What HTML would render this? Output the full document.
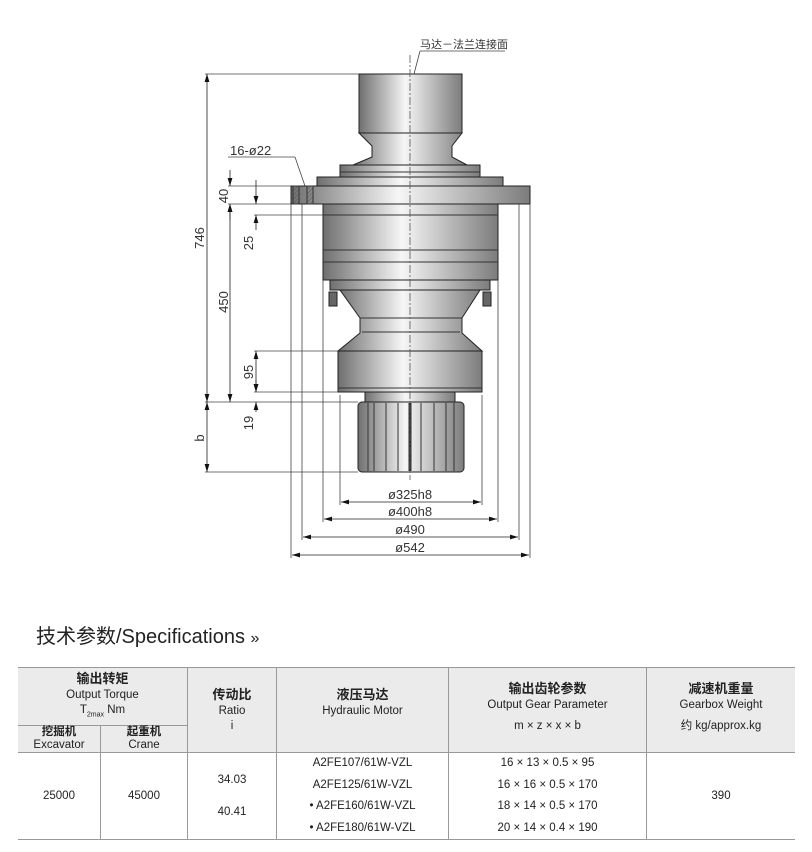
<!DOCTYPE html>
<html><head><meta charset="utf-8"><style>
body{margin:0;background:#fff;width:812px;height:852px;position:relative;overflow:hidden;font-family:"Liberation Sans","Noto Sans CJK SC",sans-serif;}
svg{position:absolute;left:0;top:0}
.title{position:absolute;left:36px;top:620px;font-size:20px;color:#222;}
table{position:absolute;left:18px;top:667px;width:777px;border-collapse:collapse;font-size:11.5px;color:#222;text-align:center;}
td{border:1px solid #999;padding:0;line-height:15px;}
.h{background:#ebebeb;}
.b{font-weight:bold;font-size:13px;}
</style></head><body>
<svg width="812" height="600" viewBox="0 0 812 600">
<defs>
<linearGradient id="g" x1="0" x2="1" y1="0" y2="0">
<stop offset="0" stop-color="#6f6f6f"/><stop offset="0.45" stop-color="#f6f6f6"/><stop offset="1" stop-color="#7c7c7c"/></linearGradient>
<pattern id="hat" width="3" height="3" patternUnits="userSpaceOnUse" patternTransform="rotate(45)"><line x1="0" y1="0" x2="0" y2="3" stroke="#555" stroke-width="1"/></pattern>
<marker id="a" markerWidth="10" markerHeight="6" refX="10" refY="3" orient="auto-start-reverse"><path d="M0,0 L10,3 L0,6z" fill="#111"/></marker>
</defs>
<g stroke="#222" stroke-width="1" fill="url(#g)">
<rect x="359" y="74" width="103" height="59"/>
<path d="M359,133 H462 L452,146 V157 L467,165 H353 L372,157 V146 Z"/>
<rect x="340" y="165" width="140" height="12"/>
<rect x="317" y="177" width="186" height="9"/>
<rect x="291" y="186" width="239" height="18"/>
<rect x="323" y="204" width="175" height="76"/>
<rect x="330" y="280" width="160" height="10"/>
<path d="M340,290 H480 L462,318 V333 L482,351 H338 L360,333 V318 Z"/>
<rect x="338" y="351" width="144" height="41"/>
<rect x="365" y="392" width="90" height="10"/>
<rect x="358" y="402" width="106" height="70" rx="4"/>
</g>
<g stroke="#333" stroke-width="1">
<line x1="323" y1="215" x2="498" y2="215"/><line x1="323" y1="250" x2="498" y2="250"/><line x1="323" y1="262" x2="498" y2="262"/>
<line x1="362" y1="332" x2="460" y2="332"/><line x1="360" y1="318" x2="462" y2="318"/><line x1="338" y1="388" x2="482" y2="388"/>
<line x1="340" y1="172" x2="480" y2="172"/>
<line x1="368" y1="403" x2="368" y2="471"/><line x1="374" y1="403" x2="374" y2="471"/><line x1="386" y1="403" x2="386" y2="471"/><line x1="398" y1="403" x2="398" y2="471"/><line x1="410" y1="403" x2="410" y2="471" stroke-width="3"/><line x1="421" y1="403" x2="421" y2="471"/><line x1="434" y1="403" x2="434" y2="471"/><line x1="446" y1="403" x2="446" y2="471"/><line x1="454" y1="403" x2="454" y2="471"/>
</g>
<rect x="293" y="186" width="6" height="18" fill="url(#hat)" stroke="#333"/>
<rect x="307" y="186" width="6" height="18" fill="url(#hat)" stroke="#333"/>
<rect x="329" y="292" width="8" height="14" fill="#666" stroke="#222"/><rect x="483" y="292" width="8" height="14" fill="#666" stroke="#222"/>
<line x1="410" y1="55" x2="410" y2="480" stroke="#555" stroke-dasharray="8,2,2,2" stroke-width="0.8"/>
<g stroke="#444" stroke-width="0.8" fill="none">
<line x1="205" y1="74" x2="359" y2="74"/>
<line x1="205" y1="472" x2="358" y2="472"/>
<line x1="205" y1="402" x2="358" y2="402"/>
<line x1="228" y1="186" x2="291" y2="186"/>
<line x1="228" y1="204" x2="291" y2="204"/>
<line x1="254" y1="215" x2="323" y2="215"/>
<line x1="254" y1="351" x2="338" y2="351"/>
<line x1="254" y1="392" x2="338" y2="392"/>
<line x1="340" y1="395" x2="340" y2="505"/><line x1="482" y1="395" x2="482" y2="505"/>
<line x1="323" y1="280" x2="323" y2="522"/><line x1="498" y1="280" x2="498" y2="522"/>
<line x1="302" y1="204" x2="302" y2="540"/><line x1="519" y1="204" x2="519" y2="540"/>
<line x1="291" y1="204" x2="291" y2="558"/><line x1="530" y1="204" x2="530" y2="558"/>
<line x1="228" y1="157" x2="295" y2="157"/><line x1="295" y1="157" x2="305" y2="186"/>
<line x1="420" y1="51" x2="505" y2="51"/><line x1="420" y1="51" x2="414" y2="74"/>
</g>
<g stroke="#222" stroke-width="0.8" marker-start="url(#a)" marker-end="url(#a)">
<line x1="207" y1="74" x2="207" y2="402"/>
<line x1="207" y1="402" x2="207" y2="472"/>
<line x1="230" y1="204" x2="230" y2="402"/>
<line x1="256" y1="351" x2="256" y2="392"/>
<line x1="341" y1="502" x2="481" y2="502"/>
<line x1="324" y1="519" x2="497" y2="519"/>
<line x1="303" y1="537" x2="518" y2="537"/>
<line x1="292" y1="555" x2="529" y2="555"/>
</g>
<g stroke="#222" stroke-width="0.8" marker-end="url(#a)">
<line x1="230" y1="170" x2="230" y2="186"/><line x1="230" y1="220" x2="230" y2="204"/>
<line x1="256" y1="180" x2="256" y2="204"/><line x1="256" y1="230" x2="256" y2="215"/>
<line x1="256" y1="412" x2="256" y2="402"/><line x1="256" y1="380" x2="256" y2="392"/>
</g>
<g font-family="'Liberation Sans','Noto Sans CJK SC',sans-serif" font-size="13" fill="#333">
<text x="420" y="48" font-size="11">马达－法兰连接面</text>
<text x="230" y="155">16-ø22</text>
<text x="410" y="499" text-anchor="middle">ø325h8</text>
<text x="410" y="516" text-anchor="middle">ø400h8</text>
<text x="410" y="534" text-anchor="middle">ø490</text>
<text x="410" y="552" text-anchor="middle">ø542</text>
<text transform="translate(204,238) rotate(-90)" text-anchor="middle">746</text>
<text transform="translate(228,196) rotate(-90)" text-anchor="middle">40</text>
<text transform="translate(253,243) rotate(-90)" text-anchor="middle">25</text>
<text transform="translate(228,302) rotate(-90)" text-anchor="middle">450</text>
<text transform="translate(253,372) rotate(-90)" text-anchor="middle">95</text>
<text transform="translate(253,423) rotate(-90)" text-anchor="middle">19</text>
<text transform="translate(204,438) rotate(-90)" text-anchor="middle">b</text>
</g>
</svg>
<div class="title">技术参数/Specifications <span style="font-size:16px">»</span></div>
<table>
<tr class="h" style="height:58px"><td colspan="2" style="border-left:none"><span class="b">输出转矩</span><br>Output Torque<br>T<sub style="font-size:7px">2max</sub> Nm</td>
<td rowspan="2" style="width:88px"><span class="b">传动比</span><br>Ratio<br>i</td>
<td rowspan="2" style="width:171px"><span class="b">液压马达</span><br>Hydraulic Motor<br>&nbsp;</td>
<td rowspan="2" style="width:197px"><span class="b">输出齿轮参数</span><br>Output Gear Parameter<br><span style="line-height:26px">m × z × x × b</span></td>
<td rowspan="2" style="border-right:none"><span class="b">减速机重量</span><br>Gearbox Weight<br><span style="line-height:26px">约 kg/approx.kg</span></td></tr>
<tr class="h" style="height:26px"><td style="width:82px;border-left:none;line-height:13px"><b>挖掘机</b><br>Excavator</td><td style="width:86px;line-height:13px"><b>起重机</b><br>Crane</td></tr>
<tr style="height:86px"><td style="border-left:none">25000</td><td>45000</td><td style="line-height:32px">34.03<br>40.41</td>
<td style="line-height:21.5px">A2FE107/61W-VZL<br>A2FE125/61W-VZL<br>• A2FE160/61W-VZL<br>• A2FE180/61W-VZL</td>
<td style="line-height:21.5px">16 × 13 × 0.5 × 95<br>16 × 16 × 0.5 × 170<br>18 × 14 × 0.5 × 170<br>20 × 14 × 0.4 × 190</td>
<td style="border-right:none">390</td></tr>
</table>
</body></html>
